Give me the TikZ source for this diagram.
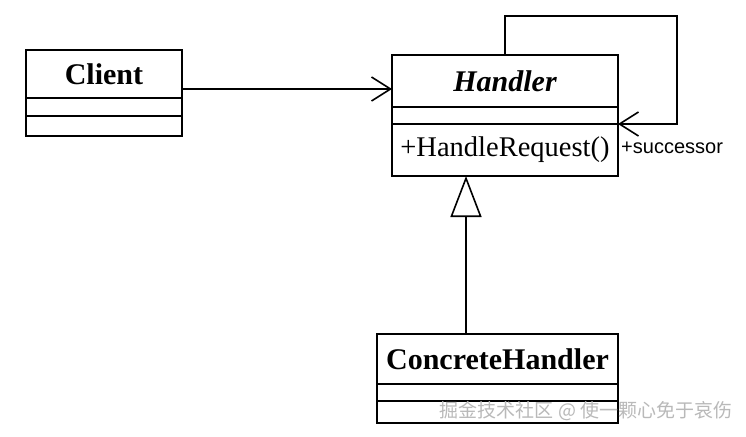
\documentclass[tikz,border=0pt]{standalone}
\usepackage{fontspec}
\setmainfont{Liberation Serif}
\setsansfont{Liberation Sans}
\newfontfamily\cjkfont{Noto Sans CJK SC}
\usetikzlibrary{positioning,arrows.meta}

\begin{document}
\begin{tikzpicture}[x=1pt,y=-1pt,
    classbox/.style={draw,line width=1.6pt,outer sep=0pt,inner sep=0pt},
    classname/.style={classbox,font=\fontsize{30}{32}\selectfont\bfseries},
    classops/.style={classbox,font=\fontsize{28.5}{30}\selectfont},
    role/.style={font=\sffamily\fontsize{20}{22}\selectfont,inner sep=1pt},
    assoc/.style={line width=1.6pt,-{Straight Barb[length=19pt,width=24pt,line width=1.6pt]}},
    implements/.style={line width=1.6pt,-{Triangle[open,length=41pt,width=31pt,line width=1.6pt]}}]
    \useasboundingbox (0,0) rectangle (746,436);
    \fill[white] (0,0) rectangle (746,436);
    \node[classname,minimum width=156pt,minimum height=48pt] (client) at (104,74) {Client};
    \node[classbox,minimum width=156pt,minimum height=18pt,below=0pt of client] (clientattr) {};
    \node[classbox,minimum width=156pt,minimum height=20pt,below=0pt of clientattr] (clientops) {};
    \node[classname,minimum width=226pt,minimum height=52pt] (handler) at (505,81) {\itshape Handler};
    \node[classbox,minimum width=226pt,minimum height=17pt,below=0pt of handler] (handlerattr) {};
    \node[classops,minimum width=226pt,minimum height=52pt,below=0pt of handlerattr] (handlerops) {+HandleRequest()};
    \node[classname,minimum width=241pt,minimum height=50pt] (concrete) at (497.5,359) {ConcreteHandler};
    \node[classbox,minimum width=241pt,minimum height=17pt,below=0pt of concrete] (concreteattr) {};
    \node[classbox,minimum width=241pt,minimum height=22pt,below=0pt of concreteattr] (concreteops) {};
    \node[role,anchor=west] (succ) at ([xshift=2pt,yshift=2pt]handlerops.east) {+successor};
    \coordinate (loop) at (677,16);
    \draw[assoc] ([yshift=-15pt]client.east) -- ([yshift=-15pt]client.east -| handler.west);
    \draw[assoc] (handler.north) |- (loop) |- (handlerattr.south east);
    \draw[implements] ([xshift=89pt]concrete.north west) -- ([xshift=74pt]handlerops.south west);
    \node[font=\cjkfont\fontsize{19}{21}\selectfont,text=gray!55] (mark) at (586,411) {掘金技术社区 @ 使一颗心免于哀伤};
\end{tikzpicture}
\end{document}
